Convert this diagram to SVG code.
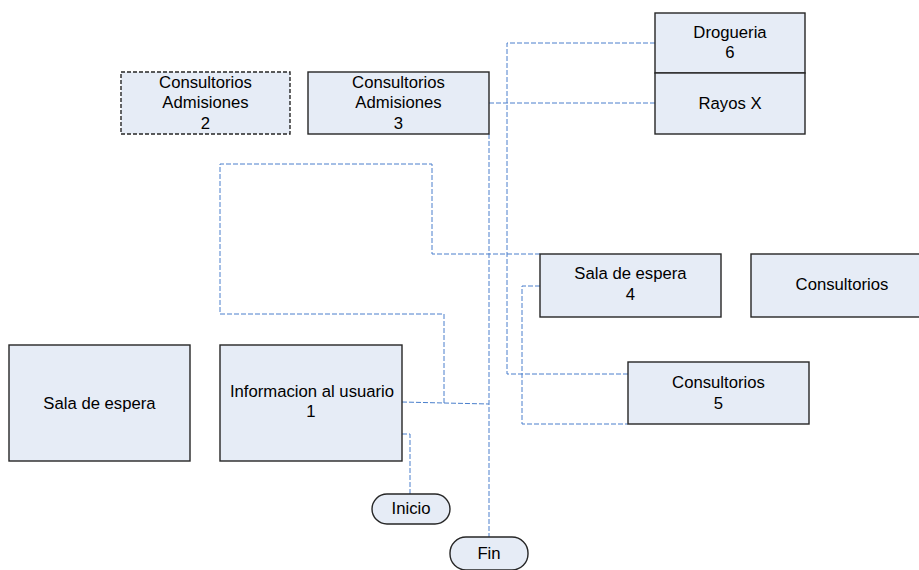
<svg xmlns="http://www.w3.org/2000/svg" width="919" height="570" viewBox="0 0 919 570">
  <style>
    .box { fill: #e6ecf6; stroke: #262626; stroke-width: 1.4; }
    .box.dash { stroke-dasharray: 4 2; }
    .lbl { font-family: "Liberation Sans", Arial, sans-serif; font-size: 16.7px; fill: #000; text-anchor: middle; }
    .conn { fill: none; stroke: #4a7fcc; stroke-width: 1; stroke-dasharray: 5 2; }
  </style>
  <rect width="919" height="570" fill="#ffffff"/>

  <!-- connectors -->
  <g id="connectors">
    <polyline class="conn" points="402,402 444,403 489,404"/>
    <polyline class="conn" points="444,403 444,314 220,314 220,164 432,164 432,254 540,254"/>
    <polyline class="conn" points="489,134 489,537"/>
    <polyline class="conn" points="489,103 655,103"/>
    <polyline class="conn" points="655,43 507,43 507,374 628,374"/>
    <polyline class="conn" points="540,286 522,286 522,424 628,424"/>
    <polyline class="conn" points="402,434 410,434 410,494"/>
  </g>

  <g id="admisiones2">
    <rect class="box dash" x="121" y="72" width="169" height="62"/>
    <text class="lbl" x="205.5" y="88">Consultorios</text>
    <text class="lbl" x="205.5" y="108">Admisiones</text>
    <text class="lbl" x="205.5" y="129">2</text>
  </g>

  <g id="admisiones3">
    <rect class="box" x="308" y="72" width="181" height="62"/>
    <text class="lbl" x="398.5" y="88">Consultorios</text>
    <text class="lbl" x="398.5" y="108">Admisiones</text>
    <text class="lbl" x="398.5" y="129">3</text>
  </g>

  <g id="drogueria6">
    <rect class="box" x="655" y="13" width="150" height="60"/>
    <text class="lbl" x="730" y="38">Drogueria</text>
    <text class="lbl" x="730" y="58">6</text>
  </g>

  <g id="rayosx">
    <rect class="box" x="655" y="73" width="150" height="61"/>
    <text class="lbl" x="730" y="109">Rayos X</text>
  </g>

  <g id="salaespera4">
    <rect class="box" x="540" y="254" width="181" height="63"/>
    <text class="lbl" x="630.5" y="279">Sala de espera</text>
    <text class="lbl" x="630.5" y="300">4</text>
  </g>

  <g id="consultorios">
    <rect class="box" x="751" y="254" width="170" height="63"/>
    <text class="lbl" x="842" y="290">Consultorios</text>
  </g>

  <g id="consultorios5">
    <rect class="box" x="628" y="362" width="181" height="62"/>
    <text class="lbl" x="718.5" y="388">Consultorios</text>
    <text class="lbl" x="718.5" y="409">5</text>
  </g>

  <g id="salaespera">
    <rect class="box" x="9" y="345" width="181" height="116"/>
    <text class="lbl" x="99.5" y="409">Sala de espera</text>
  </g>

  <g id="informacion1">
    <rect class="box" x="220" y="345" width="182" height="116"/>
    <text class="lbl" x="312" y="397">Informacion al usuario</text>
    <text class="lbl" x="311" y="417">1</text>
  </g>

  <g id="inicio">
    <rect class="box" x="372" y="494" width="78" height="30" rx="15" ry="15"/>
    <text class="lbl" x="411" y="514">Inicio</text>
  </g>

  <g id="fin">
    <rect class="box" x="450" y="537" width="78" height="33" rx="16" ry="16"/>
    <text class="lbl" x="489" y="559">Fin</text>
  </g>
</svg>
